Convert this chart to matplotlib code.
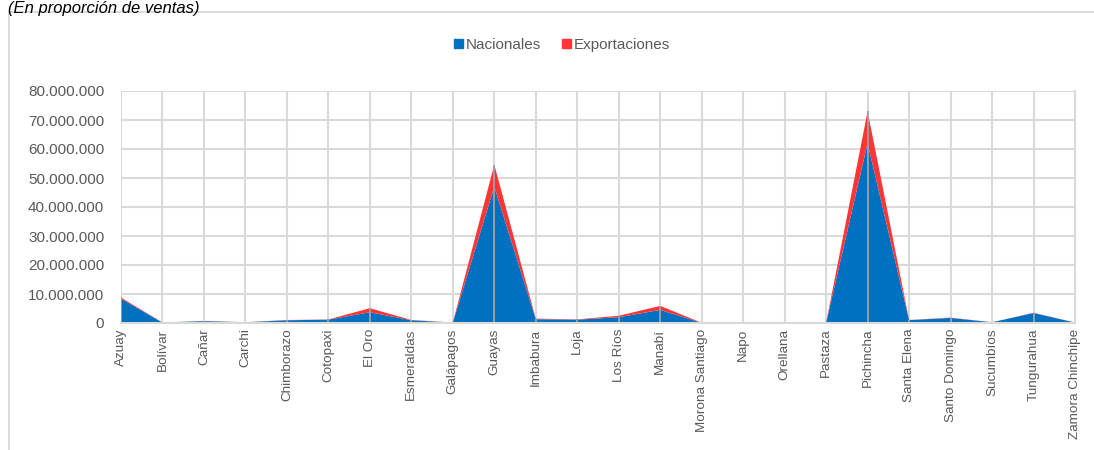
import matplotlib
matplotlib.use("Agg")
import matplotlib.pyplot as plt
from matplotlib.patches import Patch
from matplotlib.ticker import FuncFormatter, MultipleLocator
from matplotlib.lines import Line2D

plt.rcParams['font.family'] = ['Liberation Sans', 'DejaVu Sans']

provincias = ["Azuay", "Bolívar", "Cañar", "Carchi", "Chimborazo", "Cotopaxi",
              "El Oro", "Esmeraldas", "Galápagos", "Guayas", "Imbabura", "Loja",
              "Los Ríos", "Manabí", "Morona Santiago", "Napo", "Orellana",
              "Pastaza", "Pichincha", "Santa Elena", "Santo Domingo",
              "Sucumbíos", "Tungurahua", "Zamora Chinchipe"]

nacionales = [8_400_000, 150_000, 650_000, 250_000, 950_000, 1_150_000,
              3_700_000, 950_000, 150_000, 47_000_000, 1_300_000, 1_150_000,
              2_000_000, 4_500_000, 80_000, 50_000, 300_000,
              100_000, 62_000_000, 1_000_000, 1_750_000,
              250_000, 3_450_000, 150_000]

exportaciones = [400_000, 20_000, 50_000, 30_000, 80_000, 80_000,
                 1_400_000, 100_000, 20_000, 7_600_000, 200_000, 100_000,
                 500_000, 1_400_000, 10_000, 5_000, 30_000,
                 10_000, 11_000_000, 50_000, 100_000,
                 30_000, 80_000, 20_000]

W, H = 1094, 450
fig = plt.figure(figsize=(W / 100, H / 100), dpi=100)
fig.patch.set_facecolor("white")

text_color = "#595959"
grid_color = "#d9d9d9"

# outer chart frame (left and top edges)
fig.add_artist(Line2D([9 / W, 9 / W], [0, 1 - 12 / H], transform=fig.transFigure,
                      color=grid_color, lw=1.3, zorder=0))
fig.add_artist(Line2D([9 / W, 1], [1 - 12 / H, 1 - 12 / H], transform=fig.transFigure,
                      color=grid_color, lw=1.3, zorder=0))

fig.text(8 / W, 1 - 12.5 / H, "(En proporción de ventas)", fontsize=12,
         style="italic", color="#000000", va="baseline", ha="left", zorder=5)

ax = fig.add_axes([121 / W, 1 - 323 / H, (1075 - 121) / W, (323 - 91) / H])

x = list(range(len(provincias)))
ax.stackplot(x, nacionales, exportaciones, colors=["#0070c0", "#ff3535"],
             linewidth=0, zorder=2)

totales = [n + e for n, e in zip(nacionales, exportaciones)]
ax.vlines(x, 0, totales, colors="#a0a0a0", lw=1.3, zorder=3)

ax.set_xlim(0, len(provincias) - 1)
ax.set_ylim(0, 80_000_000)
ax.yaxis.set_major_locator(MultipleLocator(10_000_000))
ax.yaxis.set_major_formatter(FuncFormatter(lambda v, p: f"{int(v):,}".replace(",", ".")))
ax.set_xticks(x)
ax.set_xticklabels(provincias, rotation=90, fontsize=9.7, color=text_color)
ax.tick_params(axis="y", labelsize=11, labelcolor=text_color, length=0, pad=12)
ax.tick_params(axis="x", length=0, pad=4)

ax.grid(True, color=grid_color, lw=1.5, zorder=0)
ax.set_axisbelow(True)
for s in ["left", "top"]:
    ax.spines[s].set_visible(False)
ax.spines["right"].set_color(grid_color)
ax.spines["right"].set_linewidth(1.5)
ax.spines["bottom"].set_color(grid_color)
ax.spines["bottom"].set_linewidth(1.5)
ax.spines["bottom"].set_zorder(4)

handles = [Patch(color="#0070c0", label="Nacionales"),
           Patch(color="#ff3535", label="Exportaciones")]
fig.legend(handles=handles, loc="center", bbox_to_anchor=(562 / W, 1 - 45 / H),
           ncol=2, frameon=False, fontsize=11, labelcolor=text_color,
           handlelength=0.6, handleheight=0.6, handletextpad=0.15,
           columnspacing=1.4, borderpad=0)

fig.savefig("out.png", dpi=100, facecolor="white")
